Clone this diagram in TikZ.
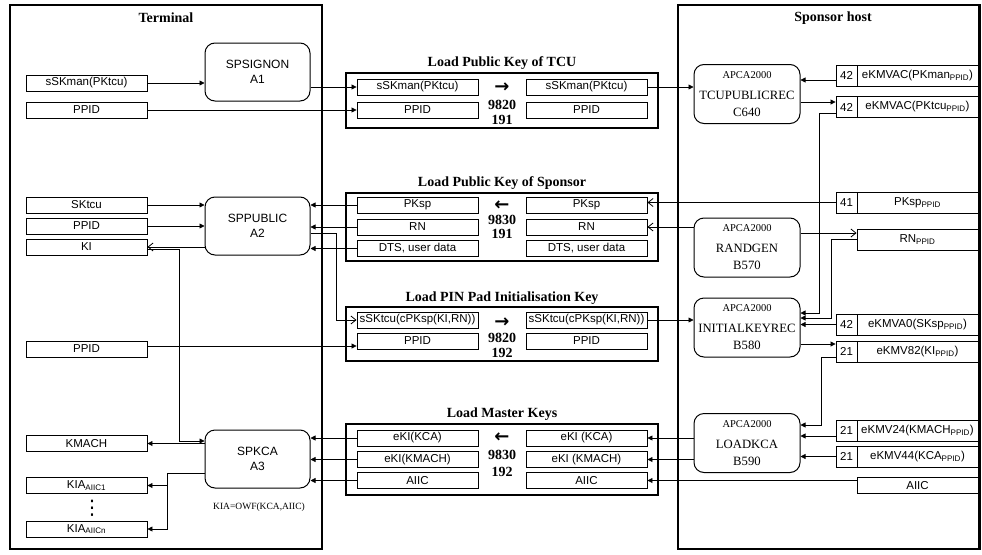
\documentclass[tikz,border=0pt]{standalone}
\usepackage{fontspec}
\setmainfont{Liberation Serif}
\setsansfont{Liberation Sans}
\newfontfamily\symfont{DejaVu Sans}
\usetikzlibrary{arrows.meta}

\tikzset{
	zone/.style={draw, line width=2.4pt, inner sep=0pt},
	zonetitle/.style={font=\bfseries\fontsize{14}{16}\selectfont},
	msg/.style={draw, line width=2.6pt, minimum width=312pt, inner sep=0pt},
	msgnum/.style={font=\bfseries\fontsize{14}{16}\selectfont},
	msgdir/.style={font=\symfont\bfseries\fontsize{18}{18}\selectfont, inner sep=0pt},
	fld/.style={draw, line width=0.9pt, minimum width=121pt, minimum height=16pt, inner sep=0pt, font=\sffamily\fontsize{11.5}{13}\selectfont},
	numcell/.style={fld, minimum width=21pt, minimum height=21pt},
	keycell/.style={fld, minimum height=21pt},
	prog/.style={draw, line width=1pt, rounded corners=10pt, minimum width=105pt, minimum height=58pt, align=center, inner sep=0pt, font=\sffamily\fontsize{12}{15}\selectfont},
	hsm/.style={draw, line width=1pt, rounded corners=10pt, minimum width=106pt, minimum height=59pt, align=center, inner sep=0pt, font=\fontsize{12.7}{17}\selectfont},
	link/.style={line width=0.8pt},
	arr/.style={link, -{Triangle[length=5pt,width=5pt]}},
	oarr/.style={link, -{Straight Barb[length=5pt,width=8pt]}},
}
\newcommand{\apca}{{\fontsize{10.5}{12}\selectfont APCA2000}\\[4pt]}

\begin{document}
\begin{tikzpicture}[x=1pt, y=-1pt]
	\useasboundingbox (0,0) rectangle (982,554) ;
	% the two sides
	\node (term)[zone, minimum width=312pt, minimum height=544pt] at (166,277) {} ;
	\node (termt)[zonetitle] at (166,18) {Terminal} ;
	\node (host)[zone, minimum width=301.5pt, minimum height=544pt] at (828.75,277) {} ;
	\node (hostt)[zonetitle] at (833,18) {Sponsor host} ;

	% terminal programs
	\node (a1)[prog] at (257.5,72) {SPSIGNON\\A1} ;
	\node (a2)[prog] at (257.5,226) {SPPUBLIC\\A2} ;
	\node (a3)[prog] at (257.5,459) {SPKCA\\A3} ;
	\node (owf)[font=\fontsize{9.5}{11}\selectfont] at (259,507) {KIA=OWF(KCA,AIIC)} ;

	% terminal data
	\node (tssk)[fld] at (86.5,83) {sSKman(PKtcu)} ;
	\node (tppida)[fld] at (86.5,110) {PPID} ;
	\node (tsktcu)[fld] at (86.5,205) {SKtcu} ;
	\node (tppidb)[fld] at (86.5,226) {PPID} ;
	\node (tki)[fld] at (86.5,247) {KI} ;
	\node (tppidc)[fld] at (86.5,349) {PPID} ;
	\node (tkmach)[fld] at (86.5,443.5) {KMACH} ;
	\node (kia1)[fld] at (86.5,485.5) {KIA\textsubscript{AIIC1}} ;
	\node (kiadots)[font=\symfont\fontsize{20}{20}\selectfont, inner sep=0pt] at (92,508) {⋮} ;
	\node (kian)[fld] at (86.5,529) {KIA\textsubscript{AIICn}} ;

	% message 9820 191
	\node (m1t)[msgnum] at (502,63) {Load Public Key of TCU} ;
	\node (m1)[msg, minimum height=55pt] at (502,100.5) {} ;
	\node (l11)[fld] at (417.5,87) {sSKman(PKtcu)} ;
	\node (l12)[fld] at (417.5,110) {PPID} ;
	\node (r11)[fld] at (586.5,87) {sSKman(PKtcu)} ;
	\node (r12)[fld] at (586.5,110) {PPID} ;
	\node (m1d)[msgdir] at (502,88) {→} ;
	\node (m1a)[msgnum] at (502,105) {9820} ;
	\node (m1b)[msgnum] at (502,120) {191} ;

	% message 9830 191
	\node (m2t)[msgnum] at (502,183) {Load Public Key of Sponsor} ;
	\node (m2)[msg, minimum height=68pt] at (502,227) {} ;
	\node (l21)[fld] at (417.5,205) {PKsp} ;
	\node (l22)[fld] at (417.5,227) {RN} ;
	\node (l23)[fld] at (417.5,248.5) {DTS, user data} ;
	\node (r21)[fld] at (586.5,205) {PKsp} ;
	\node (r22)[fld] at (586.5,227) {RN} ;
	\node (r23)[fld] at (586.5,248.5) {DTS, user data} ;
	\node (m2d)[msgdir] at (502,206) {←} ;
	\node (m2a)[msgnum] at (502,220) {9830} ;
	\node (m2b)[msgnum] at (502,234) {191} ;

	% message 9820 192
	\node (m3t)[msgnum] at (502,298) {Load PIN Pad Initialisation Key} ;
	\node (m3)[msg, minimum height=54pt] at (502,334) {} ;
	\node (l31)[fld] at (417.5,320) {sSKtcu(cPKsp(KI,RN))} ;
	\node (l32)[fld] at (417.5,341) {PPID} ;
	\node (r31)[fld] at (586.5,320) {sSKtcu(cPKsp(KI,RN))} ;
	\node (r32)[fld] at (586.5,341) {PPID} ;
	\node (m3d)[msgdir] at (502,323) {→} ;
	\node (m3a)[msgnum] at (502,338) {9820} ;
	\node (m3b)[msgnum] at (502,353) {192} ;

	% message 9830 192
	\node (m4t)[msgnum] at (502,414) {Load Master Keys} ;
	\node (m4)[msg, minimum height=71pt] at (502,459.5) {} ;
	\node (l41)[fld] at (417.5,438) {eKI(KCA)} ;
	\node (l42)[fld] at (417.5,459.5) {eKI(KMACH)} ;
	\node (l43)[fld] at (417.5,480.5) {AIIC} ;
	\node (r41)[fld] at (586.5,438) {eKI (KCA)} ;
	\node (r42)[fld] at (586.5,459.5) {eKI (KMACH)} ;
	\node (r43)[fld] at (586.5,480.5) {AIIC} ;
	\node (m4d)[msgdir] at (502,438) {←} ;
	\node (m4a)[msgnum] at (502,455) {9830} ;
	\node (m4b)[msgnum] at (502,472) {192} ;

	% host functions
	\node (c640)[hsm] at (747,94) {\apca TCUPUBLICREC\\C640} ;
	\node (b570)[hsm] at (747,247.5) {\apca RANDGEN\\B570} ;
	\node (b580)[hsm] at (747,327.5) {\apca INITIALKEYREC\\B580} ;
	\node (b590)[hsm] at (747,443) {\apca LOADKCA\\B590} ;

	% host key records
	\node (k1n)[numcell] at (846.5,75.5) {42} ;
	\node (k1)[keycell] at (917.5,75.5) {eKMVAC(PKman\textsubscript{PPID})} ;
	\node (k2n)[numcell] at (846.5,107) {42} ;
	\node (k2)[keycell] at (917.5,107) {eKMVAC(PKtcu\textsubscript{PPID})} ;
	\node (pkn)[numcell] at (846.5,202.5) {41} ;
	\node (pk)[keycell] at (917.5,202.5) {PKsp\textsubscript{PPID}} ;
	\node (rn)[keycell] at (917.5,239.5) {RN\textsubscript{PPID}} ;
	\node (va0n)[numcell] at (846.5,324.5) {42} ;
	\node (va0)[keycell] at (917.5,324.5) {eKMVA0(SKsp\textsubscript{PPID})} ;
	\node (v82n)[numcell] at (846.5,351.5) {21} ;
	\node (v82)[keycell] at (917.5,351.5) {eKMV82(KI\textsubscript{PPID})} ;
	\node (v24n)[numcell] at (846.5,430.5) {21} ;
	\node (v24)[keycell] at (917.5,430.5) {eKMV24(KMACH\textsubscript{PPID})} ;
	\node (v44n)[numcell] at (846.5,456.5) {21} ;
	\node (v44)[keycell] at (917.5,456.5) {eKMV44(KCA\textsubscript{PPID})} ;
	\node (aiic)[fld] at (917.5,485.5) {AIIC} ;

	% 9820 191
	\draw[arr] (tssk.east) -- (tssk.east -| a1.west) ;
	\draw[arr] (l11.west -| a1.east) -- (l11.west) ;
	\draw[arr] (tppida.east) -- (l12.west) ;
	\draw[arr] (r11.east) -- (r11.east -| c640.west) ;
	\draw[arr] ([yshift=-4.5pt]k1n.west) -- ([yshift=-4.5pt]k1n.west -| c640.east) ;
	\draw[arr] ([yshift=5pt]k2n.west -| c640.east) -- ([yshift=5pt]k2n.west) ;
	\draw[arr] ([yshift=-6pt]k2n.west) -- ++(-16,0) |- ([yshift=14.5pt]b580.east) ;
	% 9830 191
	\draw[oarr] (pkn.west) -- (pkn.west -| r21.east) ;
	\draw[oarr] ([yshift=6.5pt]rn.west -| b570.east) -- ([yshift=6.5pt]rn.west) ;
	\draw[arr] (rn.west) -- ++(-25,0) |- ([yshift=9.5pt]b580.east) ;
	\draw[oarr] (r22.east -| b570.west) -- (r22.east) ;
	\draw[arr] (l21.west) -- (l21.west -| a2.east) ;
	\draw[arr] (l22.west) -- (l22.west -| a2.east) ;
	\draw[arr] (l23.west) -- (l23.west -| a2.east) ;
	\draw[arr] (tsktcu.east) -- (tsktcu.east -| a2.west) ;
	\draw[arr] (tppidb.east) -- (tppidb.east -| a2.west) ;
	\draw[oarr] (tki.east -| a2.west) -- (tki.east) ;
	% 9820 192
	\draw[oarr] ([yshift=-7pt]a2.east) -- ++(26,0) |- (l31.west) ;
	\draw[arr] ([yshift=3pt]tppidc.east) -- ([yshift=3pt]tppidc.east -| l32.west) ;
	\draw[arr] (r31.east) -- (r31.east -| b580.west) ;
	\draw[arr] (va0n.west) -- (va0n.west -| b580.east) ;
	\draw[arr] ([yshift=7.5pt]v82n.west -| b580.east) -- ([yshift=7.5pt]v82n.west) ;
	% 9830 192
	\draw[arr] ([yshift=-5.5pt]v82n.west) -- ++(-14,0) |- ([yshift=18pt]b590.east) ;
	\draw[arr] ([yshift=-5.5pt]v24n.west) -- ([yshift=-5.5pt]v24n.west -| b590.east) ;
	\draw[arr] (v44n.west) -- (v44n.west -| b590.east) ;
	\draw[arr] (r43.east -| aiic.west) -- (r43.east) ;
	\draw[arr] (r41.east -| b590.west) -- (r41.east) ;
	\draw[arr] (r42.east -| b590.west) -- (r42.east) ;
	\draw[arr] (l41.west) -- (l41.west -| a3.east) ;
	\draw[arr] (l42.west) -- (l42.west -| a3.east) ;
	\draw[arr] (l43.west) -- (l43.west -| a3.east) ;
	\draw[arr] ([yshift=-2pt]tki.east) -- ++(32,0) |- ([yshift=18pt]a3.west) ;
	\draw[arr] (tkmach.east -| a3.west) -- (tkmach.east) ;
	\coordinate (kiasplit) at ([xshift=-37pt, yshift=-14pt]a3.west) ;
	\draw[link] ([yshift=-14pt]a3.west) -- (kiasplit) ;
	\draw[arr] (kiasplit) |- (kian.east) ;
	\draw[arr] (kiasplit |- kia1.east) -- (kia1.east) ;
\end{tikzpicture}
\end{document}
